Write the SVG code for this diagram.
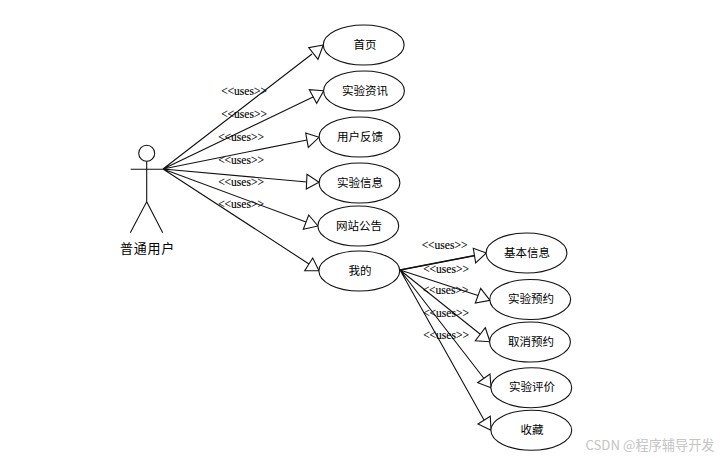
<svg xmlns="http://www.w3.org/2000/svg" width="725" height="458" viewBox="0 0 725 458">
<style>
.n{fill:#fff;stroke:#111;stroke-width:1.1}
.a{fill:#fff;stroke:#111;stroke-width:1.1}
.c{fill:none;stroke:#111;stroke-width:1.1}
.t{font-family:"Noto Sans CJK SC","Liberation Sans",sans-serif;font-size:11.5px;fill:#000;text-anchor:middle}
.u{font-family:"Liberation Serif",serif;font-size:11.5px;fill:#000;text-anchor:middle;stroke:#000;stroke-width:.15}
</style>
<rect width="725" height="458" fill="#fff"/>
<g id="connectors">
<path class="c" d="M163 169L312 54M163 169L313 97M163 169L307 140M163 169L307 182M163 169L306 222M163 169L309 264"/>
<path class="c" d="M400 270L475 255.500M400 270L478 295.500M400 270L480 334M400 270L484 378.500M400 270L484 420"/>
<path class="c" style="stroke-width:1.5" d="M400 270L475 255.500"/>
<polygon class="a" points="323.3,45 308.7,47.7 318,59.3"/>
<polygon class="a" points="323.7,90.7 309.3,89.7 316.7,103.3"/>
<polygon class="a" points="319,137.3 305.7,133 308.3,147.3"/>
<polygon class="a" points="319,182.3 307,174.3 306.3,189"/>
<polygon class="a" points="318,226 308.7,215 303.3,229.3"/>
<polygon class="a" points="319,270.7 312.7,258 304.7,270.7"/>
<polygon class="a" points="486.3,253 473.3,248.3 475.7,263"/>
<polygon class="a" points="490,300.3 480.7,288.3 475.3,303"/>
<polygon class="a" points="490,341.7 485.3,327.7 475.3,340.7"/>
<polygon class="a" points="491,387.7 477.7,382.7 490,374"/>
<polygon class="a" points="491,430.3 478,424 490.3,416.3"/>
<g id="connector-labels">
<text class="u" x="244" y="95">&lt;&lt;uses&gt;&gt;</text>
<text class="u" x="244" y="118">&lt;&lt;uses&gt;&gt;</text>
<text class="u" x="241" y="140.500">&lt;&lt;uses&gt;&gt;</text>
<text class="u" x="241" y="163.500">&lt;&lt;uses&gt;&gt;</text>
<text class="u" x="241" y="186">&lt;&lt;uses&gt;&gt;</text>
<text class="u" x="241" y="207.500">&lt;&lt;uses&gt;&gt;</text>
<text class="u" x="444.500" y="248.500">&lt;&lt;uses&gt;&gt;</text>
<text class="u" x="446" y="272.500">&lt;&lt;uses&gt;&gt;</text>
<text class="u" x="445.500" y="294">&lt;&lt;uses&gt;&gt;</text>
<text class="u" x="446" y="317">&lt;&lt;uses&gt;&gt;</text>
<text class="u" x="446" y="339">&lt;&lt;uses&gt;&gt;</text>
</g>
</g>
<g id="actor">
<circle class="n" cx="146.700" cy="153.300" r="8"/>
<path class="c" d="M130.700 169.300H163M146.700 161.300V201.700L130.300 232.700M146.700 201.700L162.700 232.700"/>
<text class="t" x="147.500" y="252.500" style="font-size:13px;letter-spacing:.7px">普通用户</text>
</g>
<g id="n1"><ellipse class="n" cx="363.700" cy="45" rx="40.400" ry="20"/><text class="t" x="365" y="48.500">首页</text></g>
<g id="n2"><ellipse class="n" cx="364" cy="91" rx="40.400" ry="20"/><text class="t" x="365" y="94.500">实验资讯</text></g>
<g id="n3"><ellipse class="n" cx="359.500" cy="137" rx="40.400" ry="20"/><text class="t" x="360" y="141">用户反馈</text></g>
<g id="n4"><ellipse class="n" cx="359.500" cy="183" rx="40.400" ry="20"/><text class="t" x="360" y="186.500">实验信息</text></g>
<g id="n5"><ellipse class="n" cx="358.300" cy="226" rx="40.400" ry="20"/><text class="t" x="359" y="230">网站公告</text></g>
<g id="n6"><ellipse class="n" cx="359.300" cy="271" rx="40.400" ry="20"/><text class="t" x="360" y="274.500">我的</text></g>
<g id="n7"><ellipse class="n" cx="526.500" cy="253" rx="40.400" ry="20"/><text class="t" x="527" y="256.500">基本信息</text></g>
<g id="n8"><ellipse class="n" cx="530.200" cy="299.500" rx="40.400" ry="20"/><text class="t" x="531" y="303">实验预约</text></g>
<g id="n9"><ellipse class="n" cx="530" cy="342" rx="40.400" ry="20"/><text class="t" x="531" y="346">取消预约</text></g>
<g id="n10"><ellipse class="n" cx="531.300" cy="387.700" rx="40.400" ry="20"/><text class="t" x="532" y="391">实验评价</text></g>
<g id="n11"><ellipse class="n" cx="531.300" cy="430.300" rx="40.400" ry="20"/><text class="t" x="532" y="434">收藏</text></g>
<text x="650" y="450" style="font-family:'Noto Sans CJK SC','Liberation Sans',sans-serif;font-size:13.200px;fill:#c4c4c4;text-anchor:middle">CSDN @程序辅导开发</text>
</svg>
